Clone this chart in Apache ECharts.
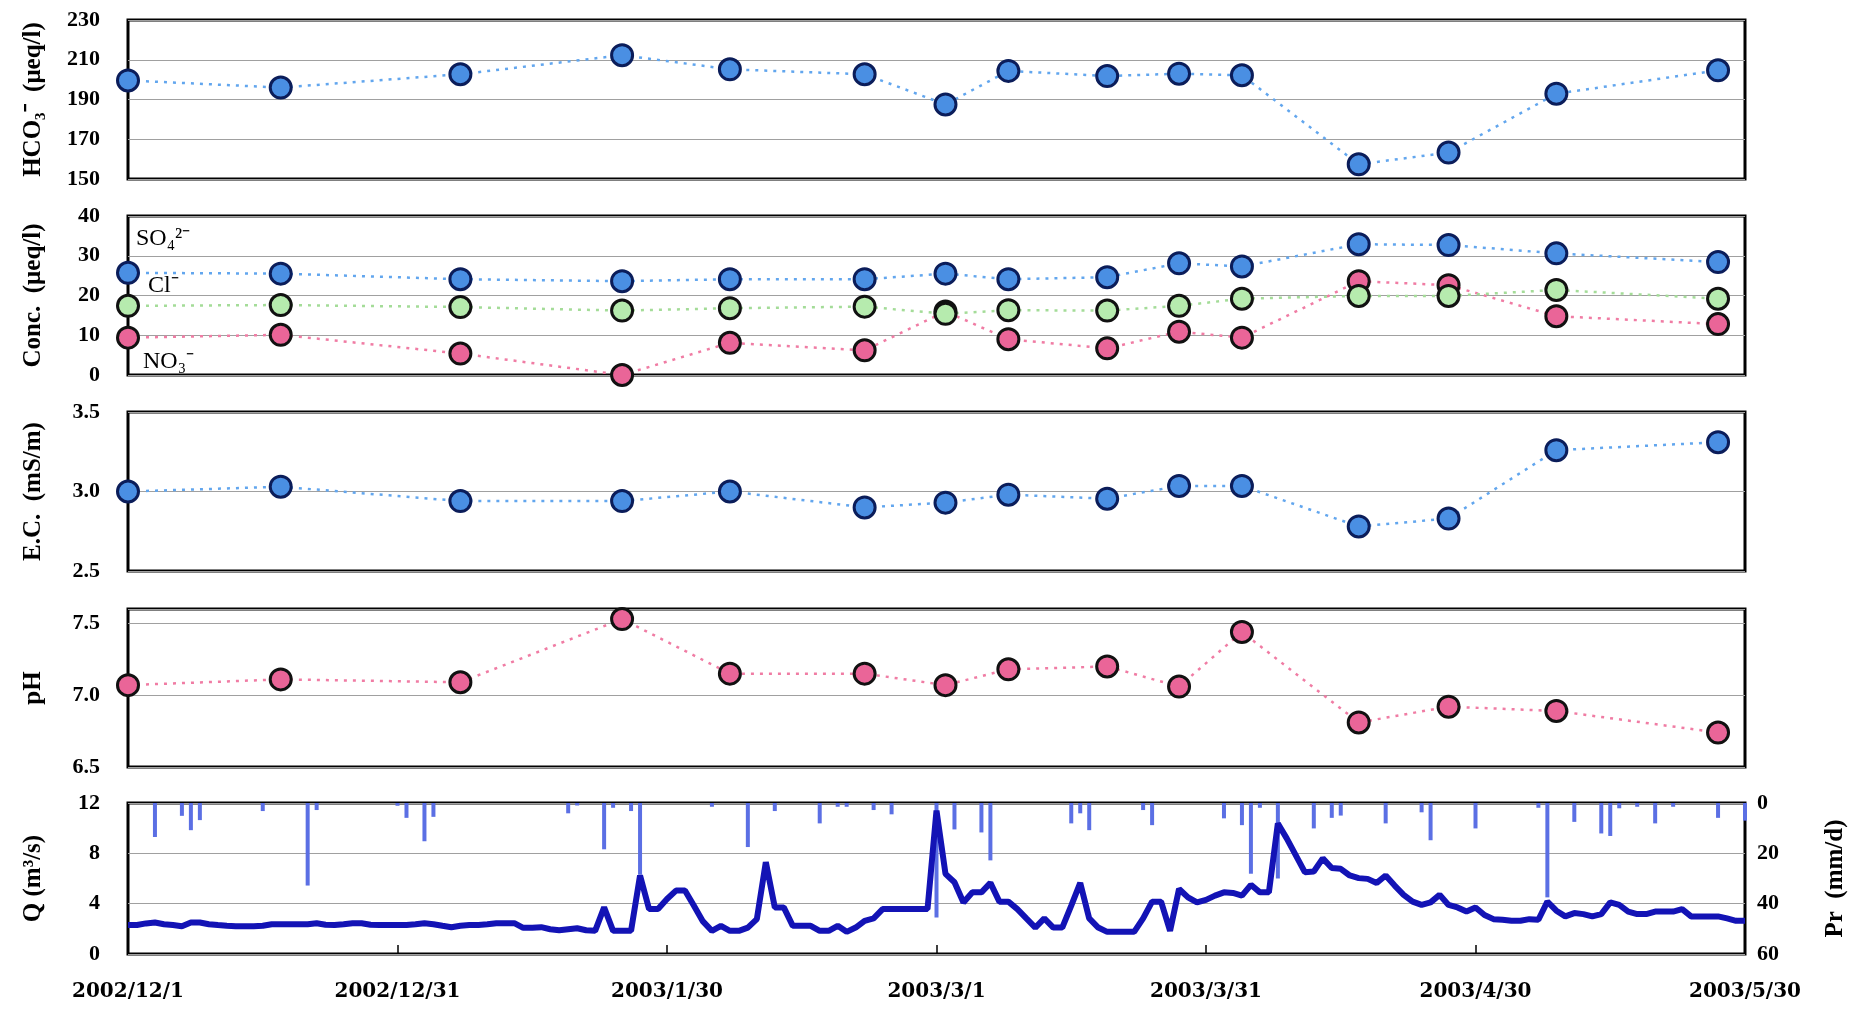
<!DOCTYPE html>
<html>
<head>
<meta charset="utf-8">
<script src="https://cdn.jsdelivr.net/npm/echarts@6/dist/echarts.min.js"></script>
<style>
html, body { margin: 0; padding: 0; background: #fff; }
#chart { width: 1866px; height: 1010px; }
</style>
</head>
<body>
<div id="chart"></div>
<script>
// sampling dates of the water quality survey
const sampleDates = ['2002/12/1', '2002/12/18', '2003/1/7', '2003/1/25', '2003/2/6', '2003/2/21', '2003/3/2',
    '2003/3/9', '2003/3/20', '2003/3/28', '2003/4/4', '2003/4/17', '2003/4/27', '2003/5/9', '2003/5/27'];

const hco3 = [199.6, 196, 202.7, 212.3, 205.2, 202.7, 187.5, 204.4, 201.8, 203, 202.2, 157.4, 163.3, 192.9, 204.7];
const so4 = [25.7, 25.5, 24.1, 23.6, 24.1, 24.1, 25.5, 24.1, 24.6, 28.1, 27.3, 32.9, 32.7, 30.6, 28.4];
const cl = [17.4, 17.6, 17.1, 16.2, 16.8, 17.2, 15.4, 16.3, 16.2, 17.4, 19.2, 19.9, 19.9, 21.4, 19.2];
const no3 = [9.4, 10.1, 5.4, 0, 8.1, 6.2, 16, 9.0, 6.7, 10.9, 9.4, 23.6, 22.6, 14.8, 12.8];
const ec = [3.0, 3.03, 2.94, 2.94, 3.0, 2.9, 2.93, 2.98, 2.955, 3.035, 3.035, 2.78, 2.83, 3.26, 3.31];
const ph = [7.07, 7.11, 7.09, 7.53, 7.15, 7.15, 7.07, 7.18, 7.2, 7.06, 7.44, 6.81, 6.92, 6.89, 6.74];

// daily discharge from 2002/12/1 to 2003/5/30
const qStart = '2002/12/1';
const qValues = [
    2.3, 2.3, 2.43, 2.5, 2.37, 2.3, 2.2, 2.5, 2.5, 2.37,
    2.3, 2.24, 2.2, 2.2, 2.2, 2.24, 2.37, 2.37, 2.37, 2.37,
    2.37, 2.45, 2.33, 2.3, 2.37, 2.45, 2.45, 2.33, 2.3, 2.3,
    2.3, 2.3, 2.37, 2.45, 2.37, 2.24, 2.13, 2.24, 2.3, 2.3,
    2.37, 2.45, 2.45, 2.45, 2.08, 2.08, 2.13, 1.97, 1.89, 1.97,
    2.05, 1.89, 1.84, 3.7, 1.84, 1.84, 1.84, 6.24, 3.57, 3.57,
    4.37, 5.04, 5.04, 3.84, 2.59, 1.84, 2.24, 1.84, 1.84, 2.1,
    2.77, 7.3, 3.7, 3.7, 2.24, 2.24, 2.24, 1.84, 1.84, 2.24,
    1.76, 2.1, 2.64, 2.83, 3.57, 3.57, 3.57, 3.57, 3.57, 3.57,
    11.4, 6.37, 5.7, 4.1, 4.9, 4.9, 5.65, 4.16, 4.16, 3.57,
    2.83, 2.1, 2.83, 2.1, 2.1, 3.84, 5.65, 2.83, 2.1, 1.76,
    1.76, 1.76, 1.76, 2.83, 4.16, 4.16, 1.84, 5.17, 4.5, 4.1,
    4.3, 4.64, 4.9, 4.85, 4.64, 5.5, 4.9, 4.9, 10.37, 9.17,
    7.84, 6.5, 6.56, 7.6, 6.83, 6.77, 6.24, 6.03, 5.97, 5.65,
    6.24, 5.44, 4.7, 4.16, 3.9, 4.1, 4.7, 3.9, 3.7, 3.37,
    3.7, 3.1, 2.77, 2.72, 2.64, 2.64, 2.77, 2.72, 4.16, 3.44,
    2.99, 3.25, 3.17, 2.99, 3.17, 4.1, 3.9, 3.37, 3.17, 3.17,
    3.37, 3.37, 3.37, 3.57, 2.99, 2.99, 2.99, 2.99, 2.83, 2.64, 2.64
];

// daily precipitation (only rainy days)
const rainDates = ['2002/12/4', '2002/12/7', '2002/12/8', '2002/12/9', '2002/12/16', '2002/12/21', '2002/12/22',
    '2002/12/31', '2003/1/1', '2003/1/3', '2003/1/4', '2003/1/19', '2003/1/20', '2003/1/23', '2003/1/24',
    '2003/1/26', '2003/1/27', '2003/2/4', '2003/2/8', '2003/2/11', '2003/2/16', '2003/2/18', '2003/2/19',
    '2003/2/22', '2003/2/24', '2003/3/1', '2003/3/3', '2003/3/6', '2003/3/7', '2003/3/16', '2003/3/17',
    '2003/3/18', '2003/3/24', '2003/3/25', '2003/4/2', '2003/4/4', '2003/4/5', '2003/4/6', '2003/4/8',
    '2003/4/12', '2003/4/14', '2003/4/15', '2003/4/20', '2003/4/24', '2003/4/25', '2003/4/30', '2003/5/7',
    '2003/5/8', '2003/5/11', '2003/5/14', '2003/5/15', '2003/5/16', '2003/5/18', '2003/5/20', '2003/5/22',
    '2003/5/27', '2003/5/30'];
const rainValues = [13.5, 5.1, 10.8, 6.8, 3.2, 32.8, 2.8,
    1.1, 5.9, 15.2, 5.5, 4.1, 1.0, 18.4, 1.9,
    3.2, 28.5, 1.5, 17.5, 3.2, 8.1, 1.5, 1.5,
    2.8, 4.5, 45.5, 10.5, 11.7, 22.8, 8.1, 4.1,
    10.8, 2.8, 8.8, 6.1, 8.8, 28.1, 1.9, 30,
    10.1, 5.9, 5.0, 8.1, 3.7, 14.8, 10.1, 1.9,
    37.5, 7.5, 12.1, 13.1, 2.1, 1.5, 8.1, 1.5,
    5.9, 7.0];

const dateTickLabels = ['2002/12/1', '2002/12/31', '2003/1/30', '2003/3/1', '2003/3/31', '2003/4/30', '2003/5/30'];

function dayIndex(s) {
    const p = s.split('/').map(Number);
    const p0 = qStart.split('/').map(Number);
    return Math.round((Date.UTC(p[0], p[1] - 1, p[2]) - Date.UTC(p0[0], p0[1] - 1, p0[2])) / 86400000);
}

const sampleX = sampleDates.map(dayIndex);

const chart = echarts.init(document.getElementById('chart'));

const tickFont = { fontFamily: 'Liberation Serif', fontWeight: 'bold', fontSize: 22, color: '#000' };
const nameFont = { fontFamily: 'Liberation Serif', fontWeight: 'bold', fontSize: 25, color: '#000' };
const ionFont = { fontFamily: 'Liberation Serif', fontSize: 24, color: '#000' };

const styles = {
    blue: { fill: '#4a8fe3', border: '#0b1d5a', line: '#62a6ee' },
    green: { fill: '#b6ebae', border: '#111', line: '#a4dc98' },
    pink: { fill: '#ea6598', border: '#111', line: '#f07ca4' }
};

function pointSeries(name, values, style, axis, firstLabel) {
    const st = styles[style];
    return {
        name: name,
        type: 'line',
        xAxisIndex: axis,
        yAxisIndex: axis,
        clip: false,
        symbol: 'circle',
        symbolSize: 21,
        itemStyle: { color: st.fill, borderColor: st.border, borderWidth: 3 },
        lineStyle: { color: st.line, width: 2.5, type: [3, 6] },
        data: values.map(function (v, i) {
            const item = { value: [sampleX[i], v] };
            if (i === 0 && firstLabel) {
                item.label = Object.assign({ show: true, position: 'right' }, ionFont, firstLabel);
            }
            return item;
        })
    };
}

const grids = [];
const panelTops = [20, 216, 412, 609, 803];
const panelHeights = [159, 159, 159, 158, 151];
for (let i = 0; i < 5; i++) {
    grids.push({
        left: 128, right: 121, top: panelTops[i], height: panelHeights[i],
        show: true, borderColor: '#000', borderWidth: 3, backgroundColor: 'transparent'
    });
}

const xAxes = grids.map(function (g, i) {
    return {
        type: 'value', gridIndex: i, min: 0, max: 180, interval: 30,
        axisLine: { show: false },
        axisTick: { show: i === 4, inside: true, length: 9, lineStyle: { color: '#000', width: 1.5 } },
        axisLabel: Object.assign({
            show: i === 4, margin: 28,
            formatter: function (v) { return dateTickLabels[Math.round(v / 30)]; }
        }, tickFont, { fontFamily: 'DejaVu Serif', fontSize: 20 }),
        splitLine: { show: false }
    };
});

function yAxis(gridIndex, min, max, interval, name, extra) {
    return Object.assign({
        type: 'value', gridIndex: gridIndex, min: min, max: max, interval: interval,
        name: name, nameLocation: 'middle', nameRotate: 90, nameGap: 82,
        nameTextStyle: nameFont,
        axisLine: { show: false },
        axisTick: { show: false },
        axisLabel: Object.assign({ margin: 28 }, tickFont),
        splitLine: { show: true, lineStyle: { color: '#a0a0a0', width: 1.2 } }
    }, extra || {});
}

const yAxes = [
    yAxis(0, 150, 230, 20, 'HCO₃⁻  (μeq/l)'),
    yAxis(1, 0, 40, 10, 'Conc.  (μeq/l)'),
    yAxis(2, 2.5, 3.5, 0.5, 'E.C.  (mS/m)', {
        axisLabel: Object.assign({ margin: 28, formatter: function (v) { return v.toFixed(1); } }, tickFont)
    }),
    yAxis(3, 6.5, 7.6, 0.5, 'pH', {
        axisLabel: Object.assign({ margin: 28, showMaxLabel: false, formatter: function (v) { return v.toFixed(1); } }, tickFont)
    }),
    yAxis(4, 0, 12, 4, 'Q (m³/s)'),
    yAxis(4, 0, 60, 20, 'Pr  (mm/d)', {
        position: 'right', inverse: true, nameGap: 78,
        axisLabel: Object.assign({ margin: 12 }, tickFont),
        splitLine: { show: false }
    })
];

const option = {
    backgroundColor: '#fff',
    animation: false,
    grid: grids,
    xAxis: xAxes,
    yAxis: yAxes,
    series: [
        pointSeries('HCO3', hco3, 'blue', 0),
        pointSeries('SO4', so4, 'blue', 1, { formatter: 'SO₄²⁻', offset: [-9, -34] }),
        pointSeries('NO3', no3, 'pink', 1, { formatter: 'NO₃⁻', offset: [-2, 24] }),
        pointSeries('Cl', cl, 'green', 1, { formatter: 'Cl⁻', offset: [3, -20] }),
        pointSeries('EC', ec, 'blue', 2),
        pointSeries('pH', ph, 'pink', 3),
        {
            name: 'Pr', type: 'bar', xAxisIndex: 4, yAxisIndex: 5,
            barWidth: 4,
            itemStyle: { color: '#5b6fe4' },
            data: rainDates.map(function (d, i) { return [dayIndex(d), rainValues[i]]; })
        },
        {
            name: 'Q', type: 'line', xAxisIndex: 4, yAxisIndex: 4,
            showSymbol: false, z: 3,
            lineStyle: { color: '#1313b5', width: 6 },
            data: qValues.map(function (v, i) { return [i, v]; })
        }
    ]
};
chart.setOption(option);
</script>
</body>
</html>
